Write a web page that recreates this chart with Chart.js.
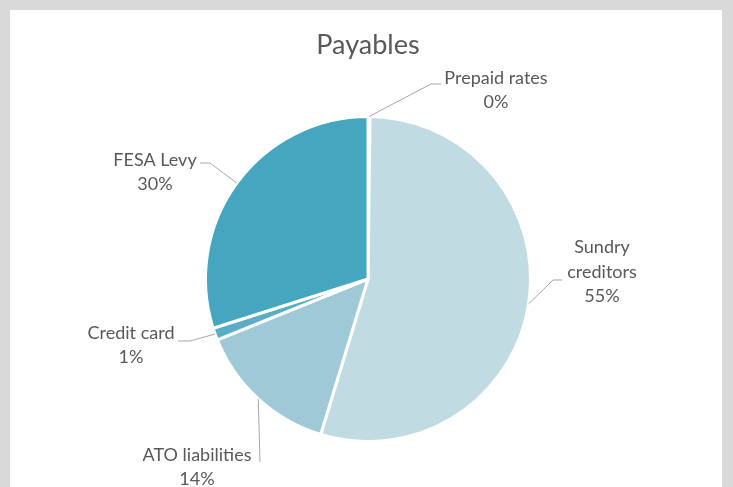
<!DOCTYPE html>
<html>
<head>
<meta charset="utf-8">
<script src="https://cdn.jsdelivr.net/npm/chart.js@4"></script>
<style>
  html, body { margin: 0; padding: 0; background: #d9d9d9; overflow: hidden; }
  #panel { position: absolute; left: 10px; top: 10px; width: 712px; height: 477px; background: #fff; }
  canvas { display: block; }
</style>
</head>
<body>
<div id="panel"><canvas id="pieChart" width="712" height="477"></canvas></div>
<script>
/* ====== 数据 ====== */
const title = "Payables";
const categories = ["Prepaid rates", "Sundry creditors", "ATO liabilities", "Credit card", "FESA Levy"];
const labelLines = [["Prepaid rates"], ["Sundry", "creditors"], ["ATO liabilities"], ["Credit card"], ["FESA Levy"]];
const values = [0.2, 54.5, 14.2, 1.2, 29.9];
const colors = ["#2f8ca6", "#c1dbe3", "#a0c9d8", "#5aadc4", "#46a5bf"];

/* ====== 标签布局 (相对饼图中心) ====== */
const labelLayout = [
  { dx: 128, dy: -189, ex: 63, ey: -195, tail: 10 },
  { dx: 234, dy: -7, ex: 185, ey: 1, tail: 9 },
  { dx: -171, dy: 188, ex: -108, ey: 183, tail: 0 },
  { dx: -237, dy: 66, ex: -178, ey: 62, tail: -12 },
  { dx: -213, dy: -107, ex: -158, ey: -116, tail: -10 },
];

const FONT = "Lato, 'Open Sans', sans-serif";
const TEXT = "#595959";

const labelsPlugin = {
  id: "pieLabels",
  afterDraw(chart) {
    const ctx = chart.ctx;
    const total = values.reduce((a, b) => a + b, 0);
    ctx.save();
    // 标题
    ctx.fillStyle = TEXT;
    ctx.font = `27px ${FONT}`;
    ctx.textAlign = "center";
    ctx.textBaseline = "middle";
    ctx.fillText(title, 358, 35);

    chart.getDatasetMeta(0).data.forEach((arc, i) => {
      const { x, y, startAngle, endAngle, outerRadius } = arc.getProps(
        ["x", "y", "startAngle", "endAngle", "outerRadius"], true);
      const mid = (startAngle + endAngle) / 2;
      const ax = x + Math.cos(mid) * outerRadius;
      const ay = y + Math.sin(mid) * outerRadius;
      const L = labelLayout[i];
      const exx = x + L.ex, eyy = y + L.ey;
      // 引导线
      ctx.strokeStyle = "#a6a6a6";
      ctx.lineWidth = 1;
      ctx.beginPath();
      ctx.moveTo(ax, ay);
      ctx.lineTo(exx, eyy);
      ctx.lineTo(exx + L.tail, eyy);
      ctx.stroke();
      // 文字
      const lines = [...labelLines[i], Math.round((values[i] / total) * 100) + "%"];
      const lh = 24.5;
      ctx.fillStyle = TEXT;
      ctx.font = `18px ${FONT}`;
      lines.forEach((t, k) => {
        ctx.fillText(t, x + L.dx, y + L.dy + (k - (lines.length - 1) / 2) * lh);
      });
    });
    ctx.restore();
  },
};

/* ====== Chart ====== */
new Chart(document.getElementById("pieChart").getContext("2d"), {
  type: "pie",
  data: {
    labels: categories,
    datasets: [{
      data: values,
      backgroundColor: colors,
      borderColor: "#ffffff",
      borderWidth: 3,
    }],
  },
  options: {
    responsive: false,
    animation: false,
    events: [],
    layout: { padding: { top: 105, bottom: 44, left: 194, right: 190 } },
    plugins: {
      legend: { display: false },
      tooltip: { enabled: false },
      title: { display: false },
    },
  },
  plugins: [labelsPlugin],
});
</script>
</body>
</html>
